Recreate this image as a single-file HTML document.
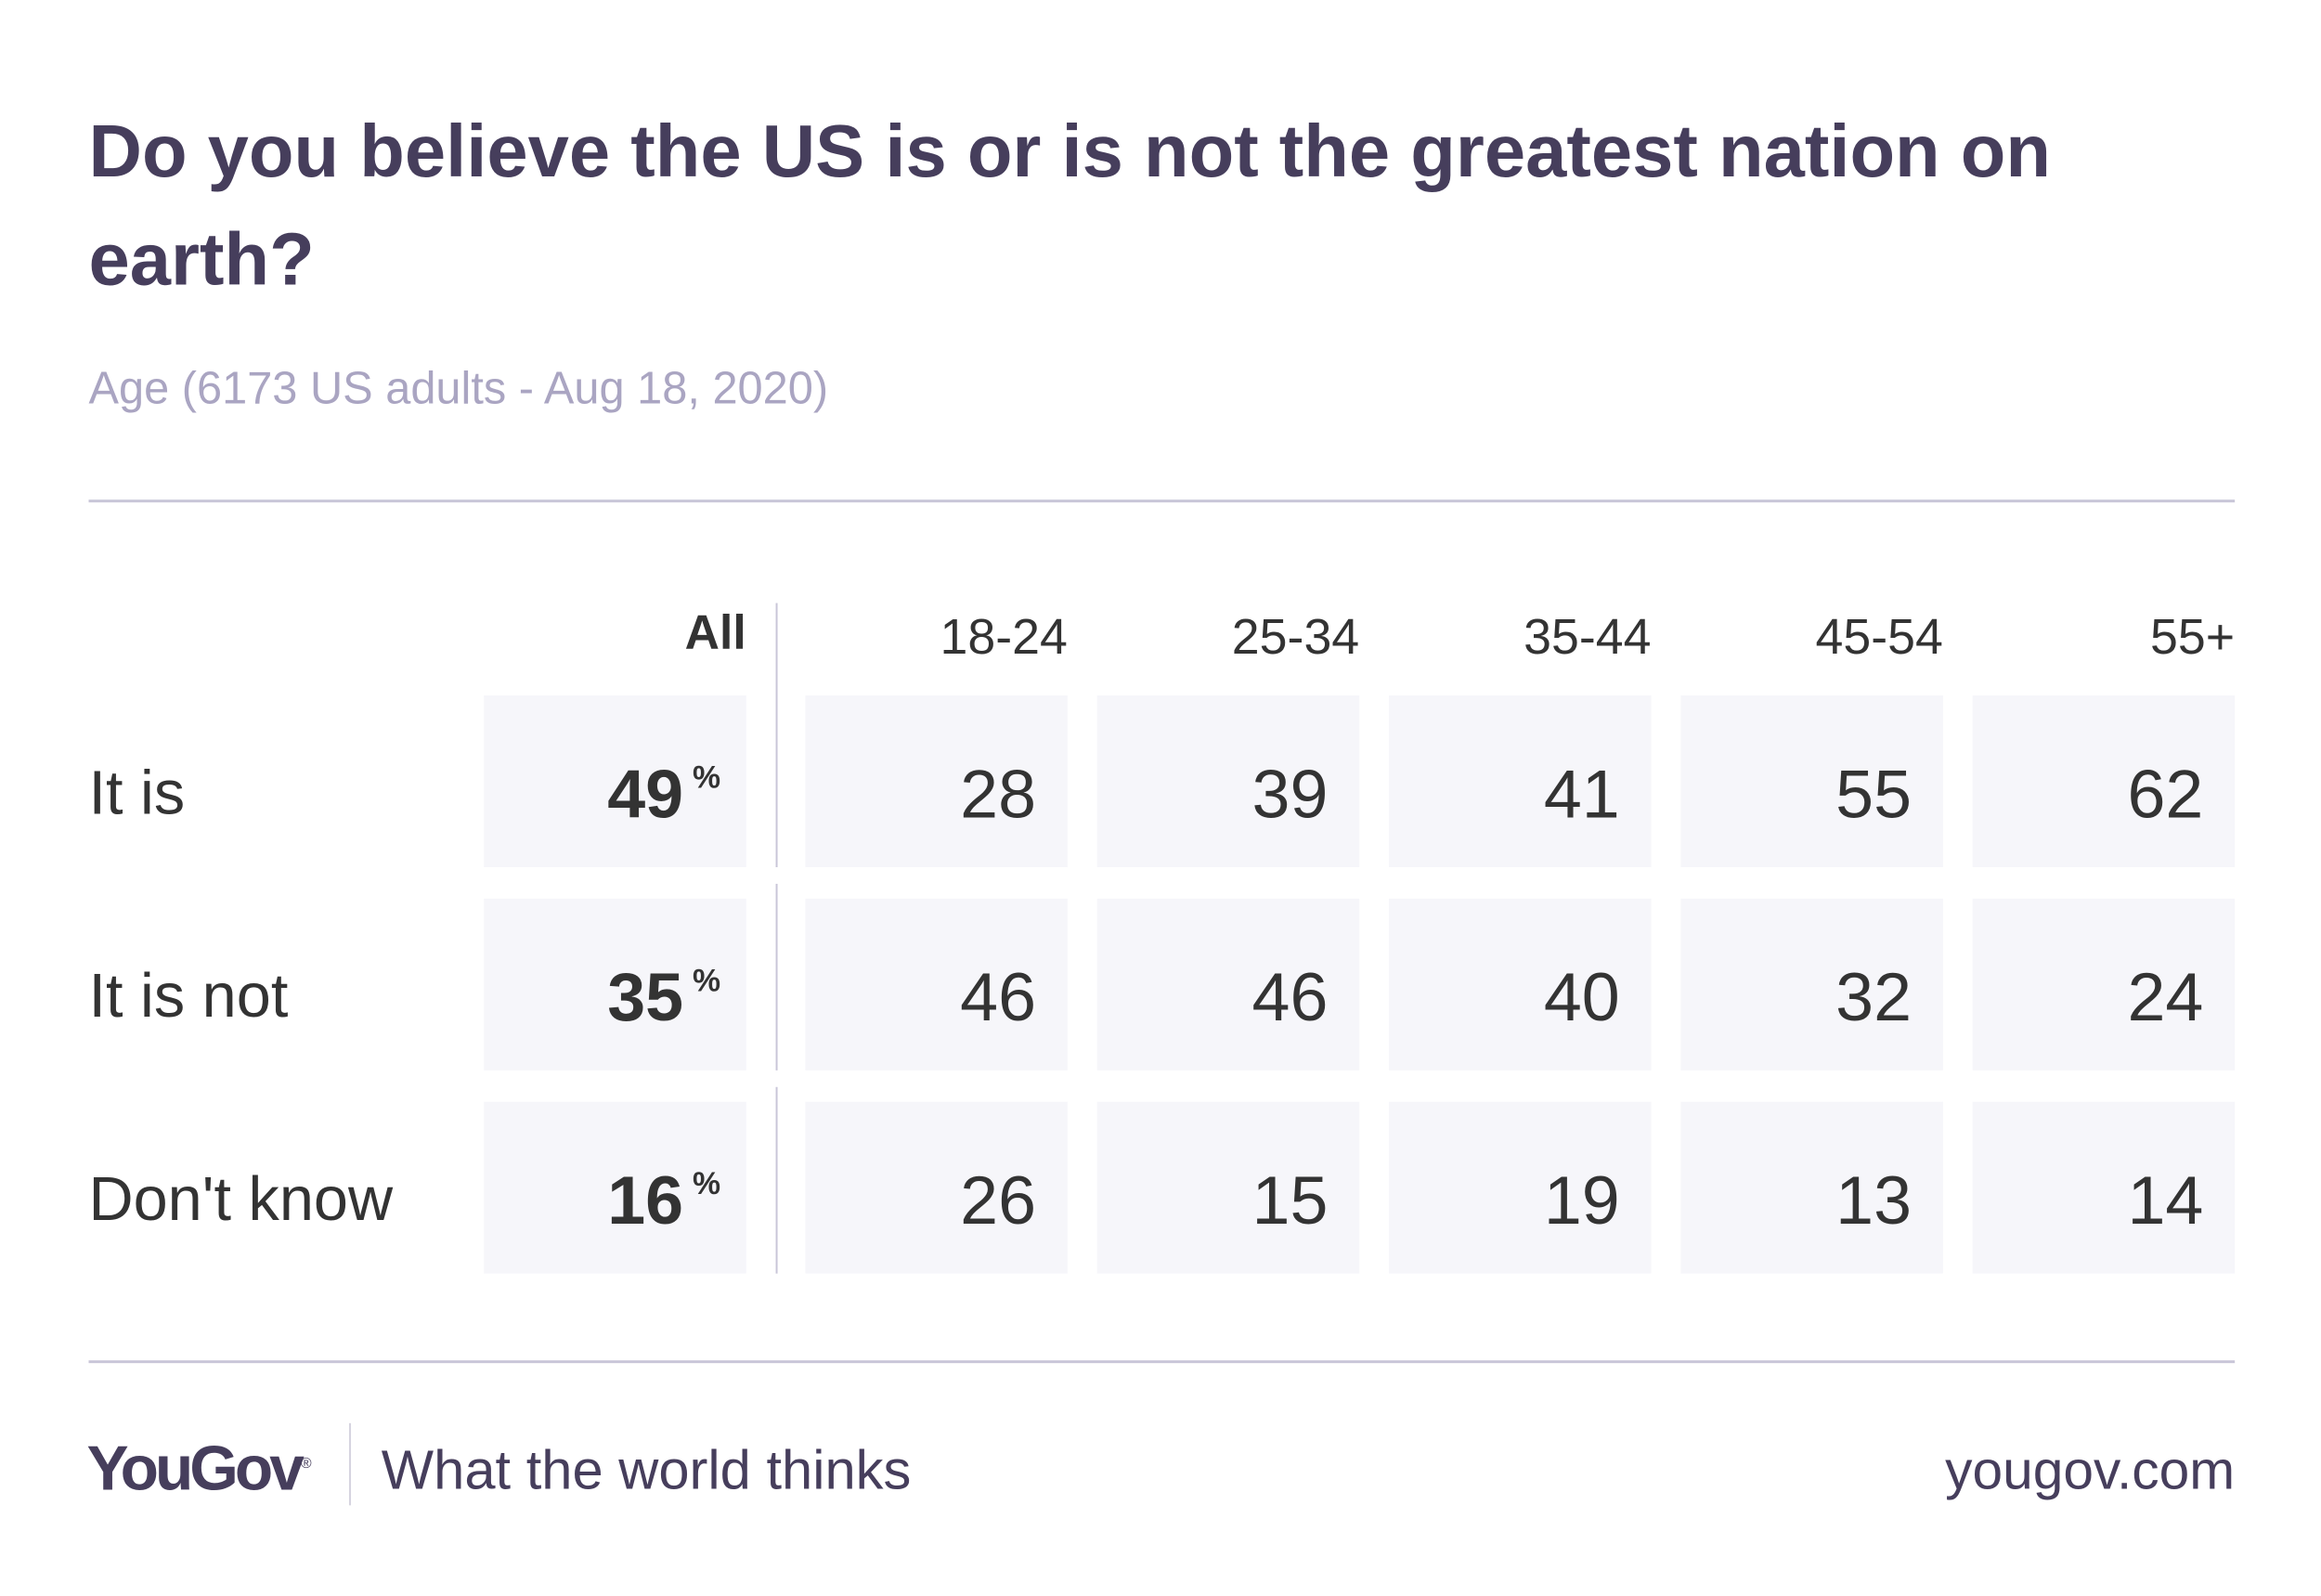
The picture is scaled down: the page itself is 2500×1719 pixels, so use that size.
<!DOCTYPE html>
<html><head><meta charset="utf-8"><style>
body{margin:0;width:2500px;height:1719px;background:#fff;font-family:"Liberation Sans",sans-serif;position:relative;overflow:hidden}
#wrap{position:absolute;left:0;top:0;width:2500px;height:1719px;transform:scale(0.9947);transform-origin:0 0}
.a{position:absolute;white-space:nowrap}
</style></head><body><div id="wrap">
<div class="a" style="left:96px;top:105px;font-size:80px;font-weight:bold;color:#463e5c;line-height:117px">Do you believe the US is or is not the greatest nation on<br>earth?</div>
<div class="a" style="left:96px;top:393px;font-size:49px;color:#aaa5c2">Age (6173 US adults - Aug 18, 2020)</div>
<div class="a" style="left:96px;top:541px;width:2324px;height:3px;background:#c9c6d8"></div>
<div id="table"></div>
<div class="a" style="left:96px;top:1473px;width:2324px;height:3px;background:#c9c6d8"></div>
<div class="a" style="left:94px;top:1551px;font-size:68px;font-weight:bold;color:#463e5c;letter-spacing:-4px">YouGov<sup style="font-size:16px;font-weight:normal">®</sup></div>
<div class="a" style="left:378px;top:1541px;width:2px;height:89px;background:#d6d4e0"></div>
<div class="a" style="left:413px;top:1557px;font-size:60px;color:#463e5c">What the world thinks</div>
<div class="a" style="right:80px;top:1558px;font-size:59px;color:#463e5c">yougov.com</div>
<script>
const rowLabels=["It is","It is not","Don't know"];
const colLabels=["18-24","25-34","35-44","45-54","55+"];
const allValues=[49,35,16];
const groupValues=[[28,39,41,55,62],[46,46,40,32,24],[26,15,19,13,14]];
const t=document.getElementById('table');
function mk(n,css,txt,inter){const d=document.createElement('div');d.className='a';d.style.cssText=css;if(txt!==undefined)d.textContent=txt;


t.appendChild(d);return d;}
const rowY=r=>753+r*220, colX=c=>872+c*316;
const cw=284,ch=186;
mk('header-all','left:524px;top:655px;width:284px;text-align:right;font-size:52px;font-weight:bold;color:#333','All');
colLabels.forEach((c,i)=>{mk('header-'+c,`left:${colX(i)}px;top:659px;width:${cw}px;text-align:right;font-size:54px;color:#333`,c);});
rowLabels.forEach((r,ri)=>{
 const y=rowY(ri);
 mk('row-label',`left:96px;top:${y+67}px;font-size:67px;color:#333`,r);
 mk('all-cell',`left:524px;top:${y}px;width:${cw}px;height:${ch}px;background:#f6f6fa`);
 mk('all-value',`left:524px;top:${y+64}px;width:${cw-68}px;text-align:right;font-size:74px;font-weight:bold;color:#333`,allValues[ri]);
 mk('percent-sign',`left:${524+cw-58}px;top:${y+70}px;font-size:34px;font-weight:bold;color:#333`,'%');
 mk('column-divider',`left:840px;top:${y-(ri==0?100:16)}px;width:2px;height:${ch+(ri==0?100:16)}px;background:#c9c6d8`);
 groupValues[ri].forEach((val,ci)=>{
  mk('value-cell',`left:${colX(ci)}px;top:${y}px;width:${cw}px;height:${ch}px;background:#f6f6fa`);
  mk('value-text',`left:${colX(ci)}px;top:${y+64}px;width:${cw-34}px;text-align:right;font-size:74px;color:#333`,val);
 });
});
</script>
</div></body></html>
